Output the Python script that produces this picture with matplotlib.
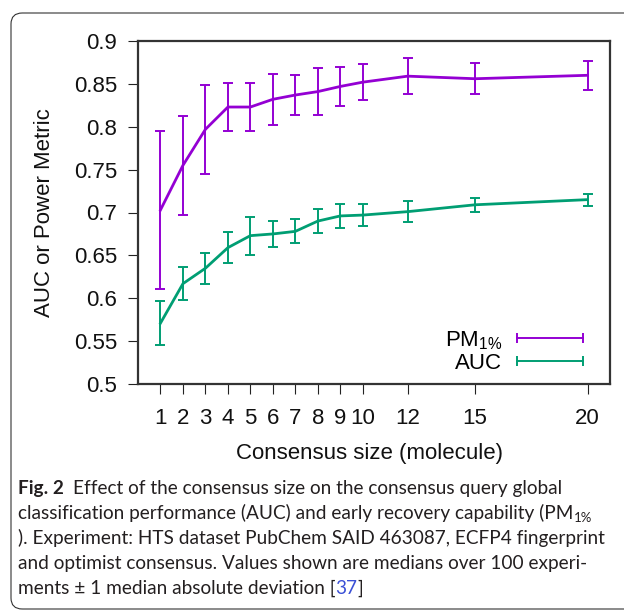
import matplotlib
matplotlib.use('Agg')
import matplotlib.pyplot as plt
from matplotlib.lines import Line2D
from matplotlib.patches import FancyBboxPatch

# consensus size (x)
sizes = [1, 2, 3, 4, 5, 6, 7, 8, 9, 10, 12, 15, 20]
# PM 1% medians and median absolute deviations
pm_values = [0.703, 0.755, 0.797, 0.823, 0.823, 0.832, 0.837, 0.841, 0.847, 0.852, 0.859, 0.856, 0.860]
pm_errors = [0.092, 0.058, 0.052, 0.028, 0.028, 0.030, 0.023, 0.027, 0.023, 0.021, 0.021, 0.018, 0.017]
# AUC medians and median absolute deviations
auc_values = [0.571, 0.617, 0.635, 0.659, 0.673, 0.675, 0.678, 0.690, 0.696, 0.697, 0.701, 0.709, 0.715]
auc_errors = [0.026, 0.019, 0.018, 0.018, 0.022, 0.015, 0.014, 0.0135, 0.0135, 0.013, 0.012, 0.008, 0.007]

y_ticks = [0.5, 0.55, 0.6, 0.65, 0.7, 0.75, 0.8, 0.85, 0.9]
y_tick_labels = ['0.5', '0.55', '0.6', '0.65', '0.7', '0.75', '0.8', '0.85', '0.9']

PURPLE = '#9400d3'
GREEN = '#009e73'
W, H = 624, 611

plt.rcParams['font.family'] = ['Liberation Sans', 'DejaVu Sans']
plt.rcParams['mathtext.default'] = 'regular'

fig = plt.figure(figsize=(W / 100, H / 100), dpi=100)
fig.patch.set_facecolor('white')

# 外框（圆角）
box = FancyBboxPatch((11 / W, 1 - 609 / H), (660 - 11) / W, (609 - 13) / H,
                     boxstyle='round,pad=0,rounding_size=0.018',
                     transform=fig.transFigure, facecolor='none',
                     edgecolor='#333333', linewidth=0.8)
fig.patches.append(box)

ax = fig.add_axes([138 / W, 1 - 384 / H, (610 - 138) / W, (384 - 41) / H])

ax.errorbar(sizes, pm_values, yerr=pm_errors, color=PURPLE, lw=2.0,
            elinewidth=1.4, capsize=3.4, capthick=1.4)
ax.errorbar(sizes, auc_values, yerr=auc_errors, color=GREEN, lw=2.0,
            elinewidth=1.4, capsize=3.4, capthick=1.4)

ax.set_xlim(0, 21)
ax.set_ylim(0.5, 0.9)
ax.set_xticks(sizes)
ax.set_xticklabels([str(s) for s in sizes])
ax.set_yticks(y_ticks)
ax.set_yticklabels(y_tick_labels)

for sp in ax.spines.values():
    sp.set_color('#333333')
    sp.set_linewidth(1.6)
ax.tick_params(axis='both', direction='out', length=7.2, width=0.8,
               labelsize=16, color='#222222', labelcolor='#111111')
ax.tick_params(axis='y', pad=8)
ax.tick_params(axis='x', pad=10)

ax.set_xlabel('Consensus size (molecule)', fontsize=16, color='#111111')
ax.set_ylabel('AUC or Power Metric', fontsize=16, color='#111111')
ax.xaxis.set_label_coords(0.49, -0.172)
ax.yaxis.set_label_coords(-0.175, 0.5)

# 图例：横向误差棒样式
handles = [Line2D([], [], color=PURPLE, lw=1.4, marker='|', markersize=7.5, markeredgewidth=1.4),
           Line2D([], [], color=GREEN, lw=1.4, marker='|', markersize=7.5, markeredgewidth=1.4)]
ax.legend(handles, ['PM$_{1\\%}$', 'AUC'], loc='lower right', bbox_to_anchor=(0.957, 0.03),
          numpoints=2, markerfirst=False, frameon=False, fontsize=16,
          handlelength=3.57, handletextpad=0.37, labelspacing=0.05,
          borderaxespad=0, borderpad=0)

# 图注文字
cap_font = ['Lato', 'DejaVu Sans']
cap_size = 13.7
cap_color = '#231f20'
renderer = fig.canvas.get_renderer()


def put(x, y, s, **kw):
    t = fig.text(x / W, 1 - y / H, s, family=cap_font, color=kw.pop('color', cap_color),
                 fontsize=kw.pop('fontsize', cap_size), va='baseline', ha='left', **kw)
    return x + t.get_window_extent(renderer).width


x0 = 18
base = [494, 519, 544, 569, 594]

x = put(x0, base[0], 'Fig. 2', fontweight='bold')
put(x + 9, base[0], 'Effect of the consensus size on the consensus query global')

x = put(x0, base[1], 'classification performance (AUC) and early recovery capability (PM')
put(x, base[1] + 3, '1%', fontsize=cap_size * 0.7)

put(x0, base[2], '). Experiment: HTS dataset PubChem SAID 463087, ECFP4 fingerprint')
put(x0, base[3], 'and optimist consensus. Values shown are medians over 100 experi-')

x = put(x0, base[4], 'ments \u00b1 1 median absolute deviation [')
x = put(x, base[4], '37', color='#3b50d6')
put(x, base[4], ']')

fig.savefig('out.png', dpi=100, facecolor='white')
